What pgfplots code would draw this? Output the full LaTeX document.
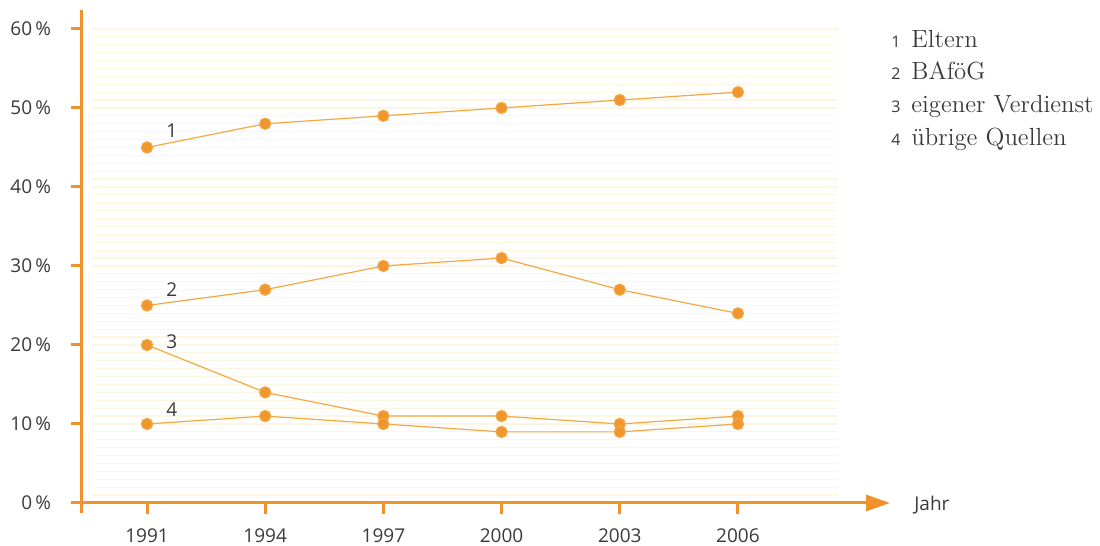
\documentclass[border=0pt]{standalone}
\usepackage{pgfplots}
\pgfplotsset{compat=1.18}
\usepackage{fontspec}
\newfontfamily\sans{Open Sans}
\usetikzlibrary{arrows.meta}
\definecolor{axor}{HTML}{F0922B}
\definecolor{dot}{HTML}{F0962E}
\definecolor{ln}{HTML}{F3A845}
\definecolor{stripe}{HTML}{FCF6E2}
\definecolor{txt}{HTML}{3A3A3A}
\begin{document}
\begin{tikzpicture}
\useasboundingbox (0,0) rectangle (550pt,273pt);
\begin{axis}[
  at={(41pt,21.5pt)}, anchor=south west,
  scale only axis, width=404pt, height=246.5pt,
  xmin=1989.35, xmax=2009.86, ymin=0, ymax=62.4,
  axis line style={draw=none},
  clip=false,
  xtick={1991,1994,1997,2000,2003,2006},
  xticklabels={1991,1994,1997,2000,2003,2006},
  ytick={0,10,20,30,40,50,60},
  yticklabels={0\,\%,10\,\%,20\,\%,30\,\%,40\,\%,50\,\%,60\,\%},
  tick align=outside, xtick pos=left, ytick pos=left,
  major tick length=5.5pt,
  tick style={axor, line width=1.5pt},
  ticklabel style={font=\sans\fontsize{9.5}{11}\selectfont, text=txt},
  yticklabel style={xshift=-6.5pt},
  xticklabel style={yshift=-4pt},
]
\pgfplotsinvokeforeach{1,...,60}{
  \draw[stripe, line width=0.6pt] (axis cs:1989.6,#1) -- (axis cs:2008.55,#1);
}
\draw[axor, line width=1.5pt] (axis cs:1989.35,-1.3) -- (axis cs:1989.35,62.4);
\draw[axor, line width=1.5pt, -{Triangle[length=12pt,width=8pt]}] (axis cs:1989.15,0) -- (axis cs:2009.86,0);
\addplot[ln, line width=0.6pt, mark=*, mark size=2.8pt, mark options={draw=none, fill=dot}]
  coordinates {(1991,45) (1994,48) (1997,49) (2000,50) (2003,51) (2006,52)};
\addplot[ln, line width=0.6pt, mark=*, mark size=2.8pt, mark options={draw=none, fill=dot}]
  coordinates {(1991,25) (1994,27) (1997,30) (2000,31) (2003,27) (2006,24)};
\addplot[ln, line width=0.6pt, mark=*, mark size=2.8pt, mark options={draw=none, fill=dot}]
  coordinates {(1991,20) (1994,14) (1997,11) (2000,11) (2003,10) (2006,11)};
\addplot[ln, line width=0.6pt, mark=*, mark size=2.8pt, mark options={draw=none, fill=dot}]
  coordinates {(1991,10) (1994,11) (1997,10) (2000,9) (2003,9) (2006,10)};
\node[font=\sans\fontsize{9.5}{11}\selectfont, text=txt] at (axis cs:1991.63,47.1) {1};
\node[font=\sans\fontsize{9.5}{11}\selectfont, text=txt] at (axis cs:1991.63,27.0) {2};
\node[font=\sans\fontsize{9.5}{11}\selectfont, text=txt] at (axis cs:1991.63,20.4) {3};
\node[font=\sans\fontsize{9.5}{11}\selectfont, text=txt] at (axis cs:1991.63,11.8) {4};
\node[anchor=west, font=\sans\fontsize{9.5}{11}\selectfont, text=txt] at (axis cs:2010.3,-0.2) {Jahr};
\end{axis}
\foreach \n/\t/\y in {1/Eltern/249, 2/BAföG/233, 3/eigener Verdienst/216.5, 4/übrige Quellen/200}{
  \node[anchor=base east, inner sep=0pt, font=\sans\fontsize{8}{9}\selectfont, text=txt] at (450.5pt,\y pt) {\n};
  \node[anchor=base west, inner sep=0pt, font=\fontsize{12.4}{14}\selectfont, text=txt] at (455.5pt,\y pt) {\t};
}
\end{tikzpicture}
\end{document}
